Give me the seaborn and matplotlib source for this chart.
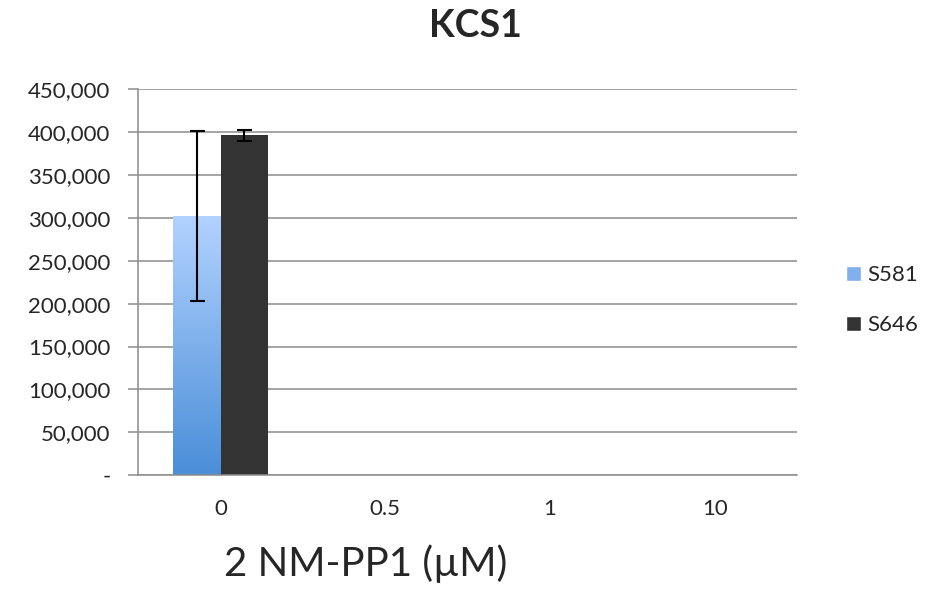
import numpy as np
import pandas as pd
import seaborn as sns
import matplotlib.pyplot as plt
from matplotlib.ticker import FuncFormatter, MultipleLocator
from matplotlib.colors import LinearSegmentedColormap
from matplotlib.patches import Patch

# data
doses = ['0', '0.5', '1', '10']
s581 = [302000, 0, 0, 0]
s646 = [396500, 0, 0, 0]
s581_err = [99000, 0, 0, 0]
s646_err = [6500, 0, 0, 0]

df = pd.DataFrame({
    'dose': doses * 2,
    'value': s581 + s646,
    'series': ['S581'] * 4 + ['S646'] * 4,
})

sns.set_style('white')
plt.rcParams['font.family'] = ['Lato', 'DejaVu Sans']

fig = plt.figure(figsize=(9.4, 5.91), dpi=100)
ax = fig.add_axes([0.147, 0.196, 0.701, 0.653])

sns.barplot(data=df, x='dose', y='value', hue='series', order=doses,
            hue_order=['S581', 'S646'], palette=['#7fb0ec', '#333333'],
            width=0.58, gap=0, errorbar=None, legend=False, linewidth=0, ax=ax)

# gradient fill for the blue bars, error bars for both
grad = LinearSegmentedColormap.from_list('g', ['#4a8ed8', '#b2d2ff'])
errs = s581_err + s646_err
for i, p in enumerate(ax.patches):
    x = p.get_x() + p.get_width() / 2
    h = p.get_height()
    if i < 4 and h > 0:
        p.set_facecolor('none')
        img = ax.imshow(np.linspace(0, 1, 256).reshape(-1, 1), cmap=grad,
                        origin='lower', aspect='auto', zorder=p.get_zorder(),
                        extent=[p.get_x(), p.get_x() + p.get_width(), 0, h])
        img.set_clip_path(p)
    if h > 0:
        ax.errorbar(x, h, yerr=errs[i], fmt='none', ecolor='black', elinewidth=1.5,
                    capsize=5.4, capthick=1.5, zorder=5)

ax.set_xlim(-0.5, 3.5)
ax.set_ylim(0, 450000)
ax.yaxis.set_major_locator(MultipleLocator(50000))
ax.yaxis.set_major_formatter(FuncFormatter(lambda v, _: '-' if v == 0 else f'{v:,.0f}'))
ax.grid(axis='y', color='#8c8c8c', linewidth=1.1)
ax.set_axisbelow(True)

for s in ['top', 'right']:
    ax.spines[s].set_visible(False)
for s in ['left', 'bottom']:
    ax.spines[s].set_color('#8c8c8c')
    ax.spines[s].set_linewidth(1.1)

# x ticks at category boundaries, labels centred
ax.set_xticks([-0.5, 0.5, 1.5, 2.5, 3.5])
ax.set_xticklabels([])
ax.set_xticks(range(4), minor=True)
ax.set_xticklabels(doses, minor=True, fontsize=16)
ax.tick_params(axis='x', which='major', length=6, color='#8c8c8c', width=1.1, direction='out')
ax.tick_params(axis='x', which='minor', length=0, pad=17)
ax.tick_params(axis='y', length=7, color='#8c8c8c', width=1.1, direction='out',
               labelsize=16, pad=13, left=True)

ax.set_xlabel('')
ax.set_ylabel('')
fig.text(0.389, 0.047, '2 NM-PP1 (\u00b5M)', fontsize=29, ha='center', va='center')
fig.text(0.506, 0.956, 'KCS1', fontsize=27, fontweight='bold', ha='center', va='center')

handles = [Patch(facecolor='#7fb0ec', label='S581'), Patch(facecolor='#333333', label='S646')]
fig.legend(handles=handles, loc='center left', bbox_to_anchor=(0.9, 0.492), frameon=False,
           fontsize=16, handlelength=0.68, handleheight=0.68, handletextpad=0.27,
           labelspacing=1.35, borderpad=0, borderaxespad=0)

fig.savefig('out.png', dpi=100)
